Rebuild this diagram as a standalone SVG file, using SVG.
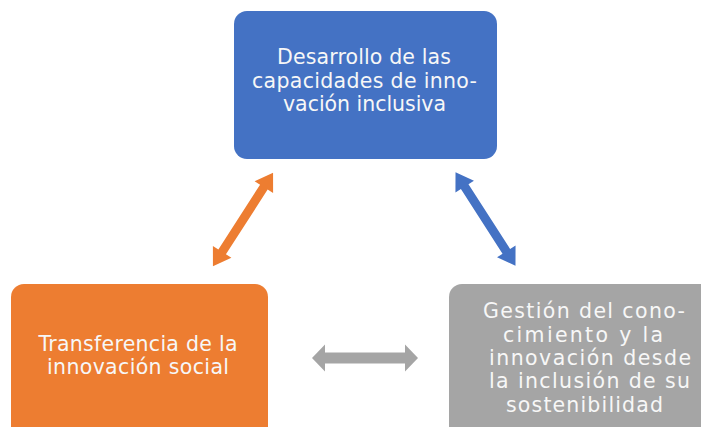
<svg xmlns="http://www.w3.org/2000/svg" width="701" height="427" viewBox="0 0 701 427">
<style>
.box{stroke:none}
.t{font-family:"DejaVu Sans","Noto Sans","Liberation Sans",sans-serif;font-size:20.5px;fill:#F7F7F7;text-anchor:middle}
</style>
<defs>
<polygon id="arr" points="-55.5,0 -38.5,-11 -38.5,-4.5 38.5,-4.5 38.5,-11 55.5,0 38.5,11 38.5,4.5 -38.5,4.5 -38.5,11"/>
</defs>
<rect width="701" height="427" fill="#FFFFFF"/>
<g id="connectors">
<use href="#arr" fill="#ED7D31" transform="translate(243,219.5) rotate(-57.2)"/>
<use href="#arr" fill="#4472C4" transform="translate(485.5,219) rotate(57.3)"/>
<polygon fill="#A5A5A5" points="312,358 325,344.5 325,352.5 405,352.5 405,344.5 418,358 405,371.5 405,363.5 325,363.5 325,371.5"/>
</g>
<g id="node-desarrollo">
<rect class="box" x="234" y="11" width="263" height="148" rx="13" fill="#4472C4"/>
<text class="t" x="364" y="64" textLength="174" lengthAdjust="spacing">Desarrollo de las</text>
<text class="t" x="364.5" y="88" textLength="225" lengthAdjust="spacing">capacidades de inno-</text>
<text class="t" x="364.5" y="111" textLength="163" lengthAdjust="spacing">vación inclusiva</text>
</g>
<g id="node-transferencia">
<rect class="box" x="11" y="284" width="257" height="160" rx="13" fill="#ED7D31"/>
<text class="t" x="138" y="351" textLength="199" lengthAdjust="spacing">Transferencia de la</text>
<text class="t" x="138" y="374" textLength="182" lengthAdjust="spacing">innovación social</text>
</g>
<g id="node-gestion">
<rect class="box" x="449" y="284" width="270" height="160" rx="13" fill="#A5A5A5"/>
<text class="t" x="584" y="318" textLength="202" lengthAdjust="spacing">Gestión del cono-</text>
<text class="t" x="583" y="342" textLength="160" lengthAdjust="spacing">cimiento y la</text>
<text class="t" x="590" y="365" textLength="202" lengthAdjust="spacing">innovación desde</text>
<text class="t" x="589.5" y="388" textLength="201" lengthAdjust="spacing">la inclusión de su</text>
<text class="t" x="584.5" y="412" textLength="157" lengthAdjust="spacing">sostenibilidad</text>
</g>
</svg>
